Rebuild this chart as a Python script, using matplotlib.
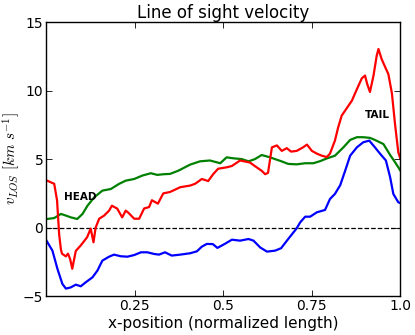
import matplotlib
matplotlib.use('Agg')
import matplotlib.pyplot as plt

# LOS velocity along the normalized length
x_red = [0.0, 0.003, 0.023, 0.031, 0.037, 0.042, 0.045, 0.056, 0.062, 0.068, 0.074, 0.084,
         0.098, 0.107, 0.116, 0.126, 0.134, 0.140, 0.150, 0.164, 0.178, 0.186, 0.201, 0.215,
         0.225, 0.232, 0.249, 0.263, 0.277, 0.291, 0.299, 0.316, 0.331, 0.350, 0.379, 0.407,
         0.421, 0.440, 0.458, 0.472, 0.486, 0.510, 0.525, 0.548, 0.567, 0.576, 0.595, 0.609,
         0.619, 0.627, 0.638, 0.652, 0.666, 0.680, 0.692, 0.708, 0.726, 0.737, 0.751, 0.765,
         0.779, 0.793, 0.802, 0.816, 0.825, 0.835, 0.849, 0.864, 0.878, 0.892, 0.901, 0.907,
         0.915, 0.925, 0.934, 0.939, 0.948, 0.960, 0.967, 0.977, 0.986, 0.995, 1.0]
v_red = [3.45, 3.43, 3.2, 2.0, -0.5, -1.6, -1.9, -2.1, -1.9, -2.3, -3.0, -1.7,
         -1.3, -1.0, -0.7, -0.07, -1.07, 0.0, 0.65, 0.88, 1.24, 1.6, 1.39, 0.75,
         1.24, 1.1, 0.65, 0.65, 1.4, 1.5, 2.0, 1.75, 2.5, 2.6, 2.95, 3.07,
         3.2, 3.55, 3.4, 3.9, 4.3, 4.4, 4.5, 4.9, 4.8, 4.75, 4.4, 4.15,
         3.9, 4.0, 5.86, 6.0, 5.6, 5.8, 5.55, 5.6, 5.86, 6.06, 5.6, 5.4,
         5.25, 5.15, 5.4, 6.35, 7.3, 8.17, 8.7, 9.27, 10.1, 10.9, 11.1, 10.5,
         9.9, 11.1, 12.55, 13.04, 12.3, 11.6, 11.2, 9.8, 7.5, 5.5, 5.1]

x_green = [0.0, 0.023, 0.042, 0.056, 0.070, 0.088, 0.103, 0.117, 0.136, 0.159, 0.183, 0.206,
           0.225, 0.249, 0.272, 0.296, 0.314, 0.333, 0.350, 0.374, 0.407, 0.435, 0.463, 0.492,
           0.510, 0.529, 0.553, 0.572, 0.590, 0.609, 0.633, 0.647, 0.664, 0.684, 0.708, 0.732,
           0.755, 0.774, 0.793, 0.816, 0.840, 0.859, 0.878, 0.896, 0.915, 0.929, 0.953, 0.972,
           0.986, 1.0]
v_green = [0.62, 0.7, 1.0, 0.88, 0.75, 0.63, 1.0, 1.6, 2.21, 2.7, 2.82, 3.19,
           3.43, 3.55, 3.8, 3.97, 3.85, 3.9, 3.92, 4.16, 4.6, 4.84, 4.9, 4.7,
           5.13, 5.06, 5.0, 4.84, 5.0, 5.3, 5.13, 5.0, 4.85, 4.65, 4.62, 4.7,
           4.7, 4.85, 5.05, 5.25, 5.86, 6.4, 6.6, 6.6, 6.55, 6.4, 6.1, 5.3,
           4.77, 4.2]

x_blue = [0.0, 0.018, 0.032, 0.046, 0.056, 0.070, 0.084, 0.098, 0.112, 0.131, 0.145, 0.159,
          0.178, 0.192, 0.211, 0.230, 0.249, 0.268, 0.286, 0.305, 0.319, 0.336, 0.355, 0.379,
          0.407, 0.426, 0.440, 0.454, 0.471, 0.484, 0.506, 0.525, 0.548, 0.572, 0.586, 0.605,
          0.624, 0.647, 0.664, 0.684, 0.708, 0.718, 0.732, 0.746, 0.765, 0.788, 0.802, 0.816,
          0.831, 0.845, 0.859, 0.878, 0.896, 0.913, 0.929, 0.944, 0.960, 0.972, 0.981, 0.995,
          1.0]
v_blue = [-0.9, -1.68, -3.0, -4.1, -4.45, -4.36, -4.16, -4.28, -3.99, -3.63, -3.14, -2.41,
          -2.12, -1.97, -2.09, -2.12, -2.0, -1.8, -1.8, -1.92, -1.97, -1.8, -2.04, -1.97,
          -1.87, -1.73, -1.39, -1.19, -1.2, -1.48, -1.17, -0.88, -0.95, -0.83, -0.95, -1.45,
          -1.75, -1.68, -1.5, -0.83, -0.05, 0.39, 0.8, 0.8, 1.12, 1.29, 2.09, 2.46,
          3.1, 4.16, 5.25, 5.86, 6.23, 6.35, 5.86, 5.38, 4.9, 3.67, 2.46, 1.85,
          1.8]

xticks = [0.25, 0.5, 0.75, 1.0]
xtick_labels = ['0.25', '0.5', '0.75', '1.0']
yticks = [-5, 0, 5, 10, 15]

plt.rcParams['mathtext.fontset'] = 'cm'
plt.rcParams['xtick.direction'] = 'in'
plt.rcParams['ytick.direction'] = 'in'

fig = plt.figure(figsize=(4.15, 3.35), dpi=100)
ax = fig.add_axes([0.111, 0.116, 0.853, 0.818])

ax.axhline(0, color='k', linestyle='--', linewidth=0.9)
ax.plot(x_green, v_green, color=(0, 0.5, 0), linewidth=1.6)
ax.plot(x_red, v_red, color='r', linewidth=1.6)
ax.plot(x_blue, v_blue, color='b', linewidth=1.6)

ax.text(0.096, 2.24, 'HEAD', fontsize=7.5, fontweight='bold', ha='center', va='center')
ax.text(0.936, 8.25, 'TAIL', fontsize=7.5, fontweight='bold', ha='center', va='center')

ax.set_xlim(0, 1)
ax.set_ylim(-5, 15)
ax.set_xticks(xticks)
ax.set_xticklabels(xtick_labels)
ax.set_yticks(yticks)
ax.tick_params(top=True, right=True, labelsize=10, length=4, width=0.6, pad=2)
for s in ax.spines.values():
    s.set_linewidth(1.0)

ax.set_xlabel('x-position (normalized length)', fontsize=11, labelpad=2)
ax.set_ylabel(r'$v_{LOS}$ $\mathbf{[}km\ s^{-1}\mathbf{]}$', fontsize=11, labelpad=1)
ax.set_title('Line of sight velocity', fontsize=12, pad=3)

fig.savefig('out.png', dpi=100)
